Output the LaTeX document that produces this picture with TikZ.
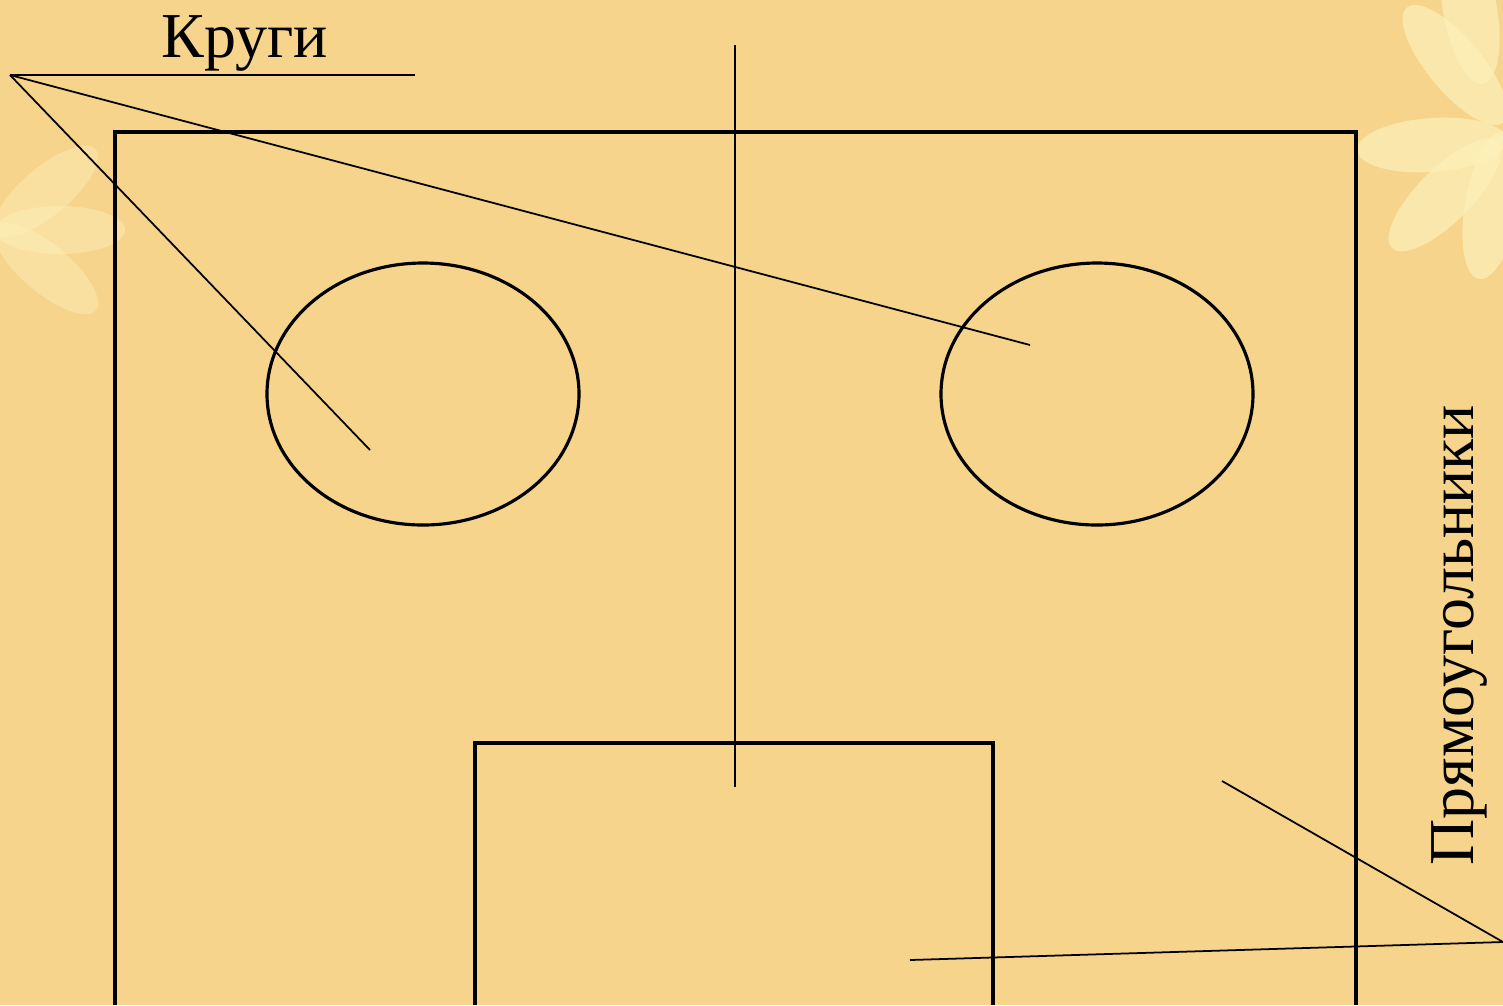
\documentclass[tikz,border=0pt]{standalone}
\usepackage{fontspec}
\setmainfont{Liberation Serif}
\definecolor{bgtan}{RGB}{246,212,140}
\definecolor{petalc}{RGB}{253,240,185}
\begin{document}
\begin{tikzpicture}[x=0.01cm,y=-0.01cm,
  thinline/.style={line width=0.5pt,black},
  frame/.style={line width=1.1pt,black},
  oval/.style={line width=0.9pt,black},
  petal/.style={fill=petalc,opacity=0.7,draw=none},
  lbl/.style={font=\fontsize{18.2}{21}\selectfont,inner sep=0pt}]
\fill[bgtan] (0,0) rectangle (1503,1005);
\useasboundingbox (0,0) rectangle (1503,1005);
% faint background petals
\foreach \mx/\my/\a in {1455/65/130,1432/145/-176,1445/195/-135,1492/205/-100,1470/10/100}
  \fill[petal,rotate around={\a:(\mx,\my)}] (\mx,\my) ellipse (75 and 27);
\foreach \a in {-40,0,40} \fill[petal,opacity=0.45,rotate around={\a:(0,230)}] (60,230) ellipse (65 and 24);
% shapes
\coordinate (TL) at (115,1005); \coordinate (T1) at (115,132);
\coordinate (T2) at (1356,132); \coordinate (TR) at (1356,1005);
\draw[frame] (TL) -- (T1) -- (T2) -- (TR);
\coordinate (ML) at (475,1005); \coordinate (M1) at (475,743);
\coordinate (M2) at (993,743); \coordinate (MR) at (993,1005);
\draw[frame] (ML) -- (M1) -- (M2) -- (MR);
\draw[oval] (423,394) ellipse (156 and 131);
\draw[oval] (1097,394) ellipse (156 and 131);
\coordinate (V1) at (735,45); \coordinate (V2) at (735,787);
\draw[thinline] (V1) -- (V2);
% labels
\node[lbl,anchor=base] (kr) at (245,57) {Круги};
\coordinate (P) at (10,75); \coordinate (U) at (415,75);
\coordinate (C1) at (370,450); \coordinate (C2) at (1030,345);
\draw[thinline] (P) -- (U);
\draw[thinline] (P) -- (C1);
\draw[thinline] (P) -- (C2);
\node[lbl,rotate=90,anchor=base] (pr) at (1473,635) {Прямоугольники};
\coordinate (Q) at (1503,942); \coordinate (R1) at (1222,781); \coordinate (R2) at (910,960);
\draw[thinline] (Q) -- (R1);
\draw[thinline] (Q) -- (R2);
\end{tikzpicture}
\end{document}
